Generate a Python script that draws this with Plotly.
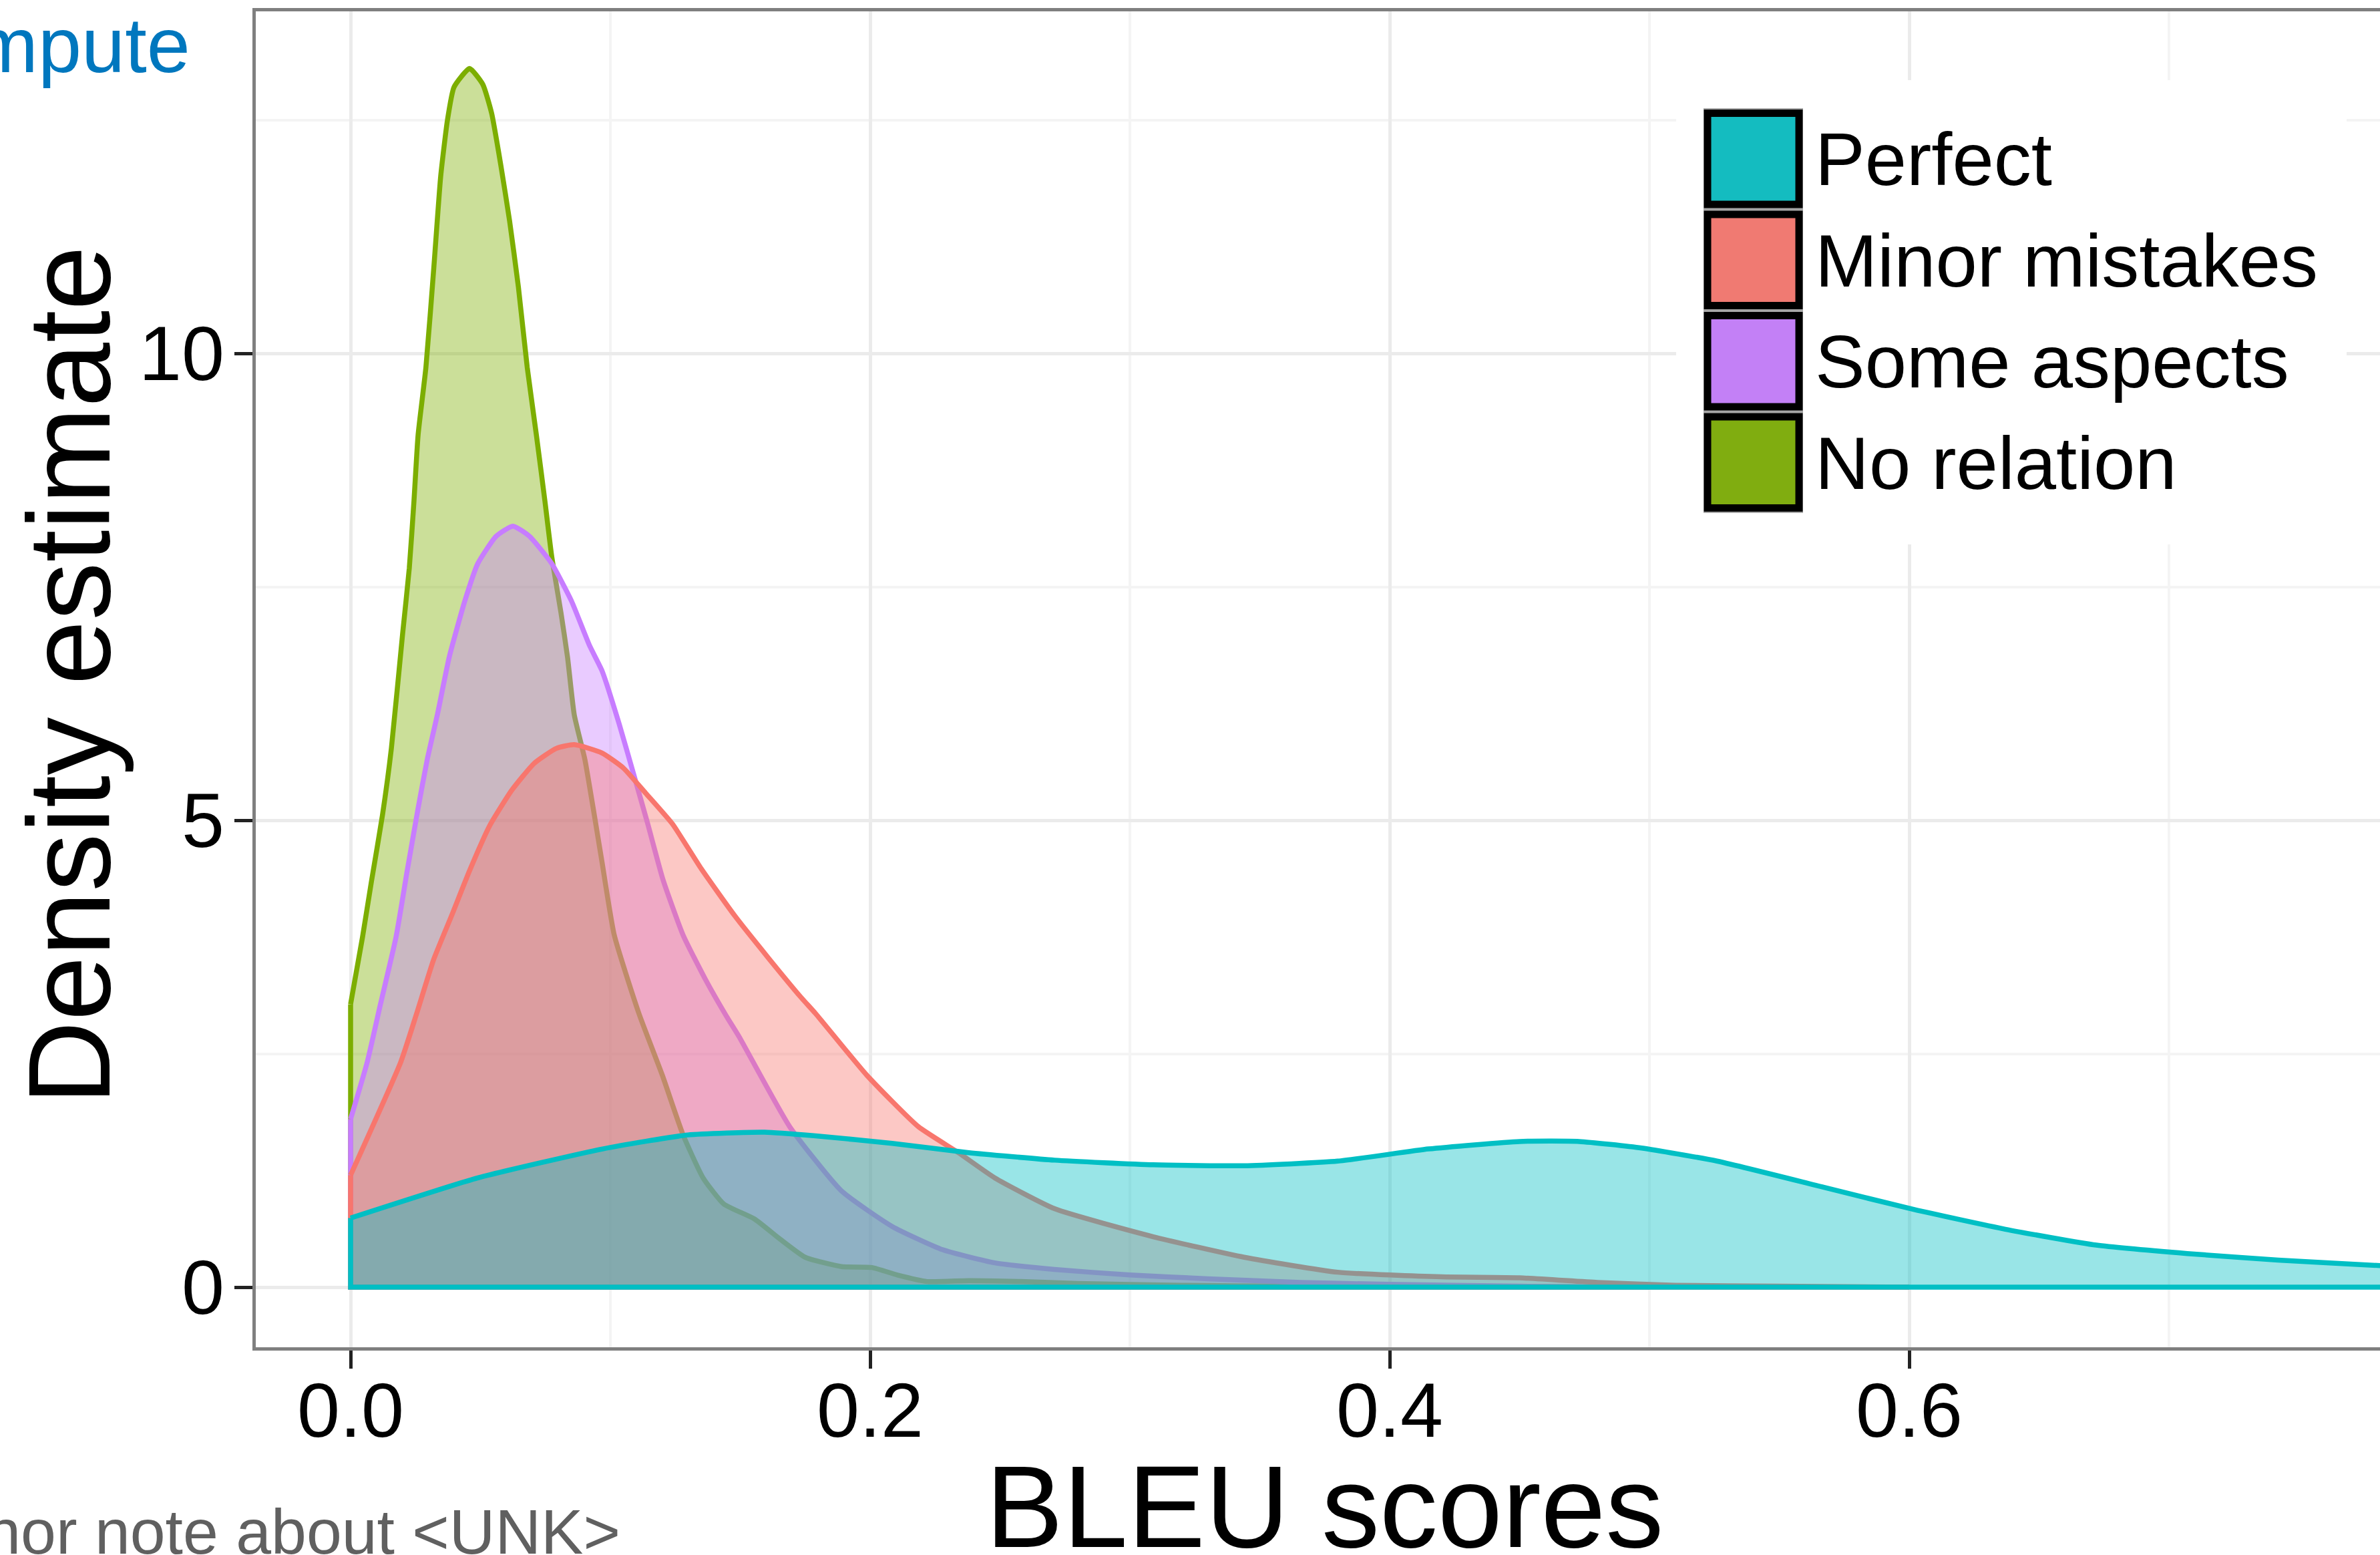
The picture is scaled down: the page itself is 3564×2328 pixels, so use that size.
import plotly.graph_objects as go

# ---------------- data ----------------
categories = ["Perfect", "Minor mistakes", "Some aspects", "No relation"]
line_colors = ["#00BFC4", "#F8766D", "#C77CFF", "#7CAE00"]
fill_colors = ["rgba(0,191,196,0.4)", "rgba(248,118,109,0.4)",
               "rgba(199,124,255,0.4)", "rgba(124,174,0,0.4)"]
key_colors = ["rgba(0,191,196,0.88)", "rgba(248,118,109,0.9)",
              "rgba(199,124,255,0.9)", "rgba(124,174,0,0.9)"]

no_relation_x = [0.0, 0.0046, 0.008, 0.0123, 0.0157, 0.020, 0.0226, 0.0244, 0.026, 0.029,
                 0.0321, 0.0347, 0.0373, 0.0398, 0.0458, 0.0509, 0.0543, 0.0578, 0.0612,
                 0.0646, 0.068, 0.0715, 0.0748, 0.0774, 0.081, 0.0835, 0.0861, 0.0902,
                 0.0938, 0.0968, 0.1015, 0.111, 0.120, 0.128, 0.1357, 0.1437, 0.1555,
                 0.1653, 0.175, 0.189, 0.2007, 0.2105, 0.222, 0.238, 0.258, 0.28, 0.32,
                 0.36, 0.42, 0.50]
no_relation_y = [3.03, 3.75, 4.34, 5.06, 5.77, 6.99, 7.70, 8.42, 9.13, 9.85,
                 10.94, 11.90, 12.50, 12.85, 13.05, 12.88, 12.57, 12.02, 11.42,
                 10.71, 9.85, 9.13, 8.42, 7.83, 7.22, 6.75, 6.13, 5.65,
                 5.06, 4.55, 3.77, 2.93, 2.27, 1.63, 1.17, 0.89, 0.73,
                 0.515, 0.32, 0.22, 0.21, 0.13, 0.06, 0.07, 0.06, 0.04, 0.02,
                 0.01, 0.01, 0.0]

some_aspects_x = [0.0, 0.0064, 0.0115, 0.0175, 0.0218, 0.026, 0.0295, 0.0334, 0.038, 0.044,
                  0.049, 0.056, 0.0625, 0.0689, 0.0774, 0.085, 0.092, 0.0968, 0.1033,
                  0.109, 0.1144, 0.1203, 0.128, 0.1367, 0.1445, 0.1496, 0.169, 0.189,
                  0.2085, 0.228, 0.248, 0.271, 0.30, 0.33, 0.366, 0.40, 0.45, 0.50]
some_aspects_y = [1.8, 2.41, 3.03, 3.75, 4.46, 5.13, 5.65, 6.13, 6.75, 7.35,
                  7.75, 8.04, 8.15, 8.04, 7.75, 7.35, 6.87, 6.6, 6.04,
                  5.49, 4.96, 4.36, 3.77, 3.29, 2.91, 2.68, 1.72, 1.03,
                  0.65, 0.40, 0.26, 0.19, 0.13, 0.09, 0.05, 0.03, 0.01, 0.0]

minor_mistakes_x = [0.0, 0.0193, 0.0252, 0.032, 0.0389, 0.0458, 0.0535, 0.062, 0.0707,
                    0.0792, 0.0861, 0.0968, 0.105, 0.1136, 0.1239, 0.135, 0.1478, 0.1607,
                    0.1735, 0.179, 0.1987, 0.2185, 0.234, 0.248, 0.271, 0.309, 0.344,
                    0.38, 0.42, 0.45, 0.48, 0.51, 0.55, 0.60]
minor_mistakes_y = [1.2, 2.41, 2.91, 3.51, 3.98, 4.46, 4.94, 5.32, 5.61,
                    5.77, 5.81, 5.72, 5.56, 5.29, 4.96, 4.48, 3.98, 3.53,
                    3.10, 2.93, 2.27, 1.72, 1.44, 1.17, 0.84, 0.54, 0.32,
                    0.16, 0.11, 0.10, 0.05, 0.02, 0.01, 0.0]

perfect_x = [0.0, 0.049, 0.097, 0.1298, 0.1594, 0.179, 0.2085, 0.238, 0.271, 0.309,
             0.344, 0.38, 0.415, 0.45, 0.473, 0.497, 0.526, 0.567, 0.602, 0.637,
             0.672, 0.707, 0.742, 0.782, 0.80]
perfect_y = [0.74, 1.17, 1.48, 1.63, 1.66, 1.62, 1.54, 1.44, 1.36, 1.31,
             1.30, 1.35, 1.48, 1.56, 1.56, 1.49, 1.35, 1.07, 0.83, 0.62,
             0.45, 0.36, 0.29, 0.23, 0.21]

series_x = {"Perfect": perfect_x, "Minor mistakes": minor_mistakes_x,
            "Some aspects": some_aspects_x, "No relation": no_relation_x}
series_y = {"Perfect": perfect_y, "Minor mistakes": minor_mistakes_y,
            "Some aspects": some_aspects_y, "No relation": no_relation_y}
draw_order = ["No relation", "Some aspects", "Minor mistakes", "Perfect"]

x_tick_vals = [0.0, 0.2, 0.4, 0.6]
x_tick_text = ["0.0", "0.2", "0.4", "0.6"]
x_minor_vals = [0.1, 0.3, 0.5, 0.7]
y_tick_vals = [0, 5, 10]
y_tick_text = ["0", "5", "10"]
y_minor_vals = [2.5, 7.5, 12.5]

x_title = "BLEU scores"
y_title = "Density estimate"
top_text = "Compute"
bottom_text = "Minor note about <UNK>"

# ---------------- layout geometry ----------------
FIG_W, FIG_H = 3564, 2328
ML, MR, MT, MB = 383, 0, 17, 311
PW = FIG_W - ML - MR
PH = FIG_H - MT - MB
FONT = "Liberation Sans, Arial, Helvetica, sans-serif"
LW = 7.5


def pxx(p):
    return (p - ML) / PW


def pxy(p):
    return (FIG_H - MB - p) / PH


fig = go.Figure()

for name in draw_order:
    i = categories.index(name)
    xs = series_x[name]
    ys = series_y[name]
    # density curve, filled down to zero
    fig.add_trace(go.Scatter(
        x=xs, y=ys, mode="lines", fill="tozeroy",
        fillcolor=fill_colors[i],
        line=dict(color=line_colors[i], width=LW, shape="spline", smoothing=0.5),
        name=name, showlegend=False, hoverinfo="skip"))
    # closing outline of the polygon: vertical edge at the start, baseline, end edge
    fig.add_trace(go.Scatter(
        x=[xs[0], xs[0], xs[-1], xs[-1]], y=[ys[0], 0.0, 0.0, ys[-1]],
        mode="lines", line=dict(color=line_colors[i], width=LW),
        showlegend=False, hoverinfo="skip"))

shapes = []
annotations = []

# legend (drawn manually to match the large ggplot keys)
shapes.append(dict(type="rect", xref="paper", yref="paper",
                   x0=pxx(2510), x1=pxx(3514), y0=pxy(120), y1=pxy(815),
                   fillcolor="white", line=dict(width=0), layer="above"))
shapes.append(dict(type="rect", xref="paper", yref="paper",
                   x0=pxx(2551), x1=pxx(2700), y0=pxy(162), y1=pxy(768),
                   fillcolor="#A6A6A6", line=dict(width=0), layer="above"))
key_top = 162
key_h = 151.5
for i, name in enumerate(categories):
    y0 = key_top + key_h * i
    shapes.append(dict(type="rect", xref="paper", yref="paper",
                       x0=pxx(2557), x1=pxx(2694),
                       y0=pxy(y0 + 7.5), y1=pxy(y0 + key_h - 7.5),
                       fillcolor=key_colors[i],
                       line=dict(color="black", width=11), layer="above"))
    annotations.append(dict(xref="paper", yref="paper",
                            x=pxx(2716), y=pxy(y0 + key_h / 2 + 1),
                            xanchor="left", yanchor="middle", showarrow=False,
                            text=name, font=dict(family=FONT, size=112, color="black")))

# axis titles
annotations.append(dict(xref="paper", yref="paper", x=pxx(1984), y=pxy(2255),
                        xanchor="center", yanchor="middle", showarrow=False,
                        text=x_title, font=dict(family=FONT, size=174, color="black")))
annotations.append(dict(xref="paper", yref="paper", x=pxx(103), y=pxy(1011),
                        xanchor="center", yanchor="middle", showarrow=False,
                        textangle=-90,
                        text=y_title, font=dict(family=FONT, size=174, color="black")))
# slide text fragments around the chart (cut by the screenshot edge, as in the reference)
annotations.append(dict(xref="paper", yref="paper", x=pxx(287), y=pxy(68),
                        xanchor="right", yanchor="middle", showarrow=False,
                        text=top_text, font=dict(family=FONT, size=117, color="#0077BE")))
annotations.append(dict(xref="paper", yref="paper", x=pxx(931), y=pxy(2293),
                        xanchor="right", yanchor="middle", showarrow=False,
                        text=bottom_text.replace("<", "&lt;").replace(">", "&gt;"),
                        font=dict(family=FONT, size=95, color="#606060")))

x_per_px = 1 / 3890.0
y_per_px = 1 / 139.8
x0_px, y0_px = 525, 1927
x_range = [(ML - x0_px) * x_per_px, (FIG_W - MR - x0_px) * x_per_px]
y_range = [(y0_px - (FIG_H - MB)) * y_per_px, (y0_px - MT) * y_per_px]

fig.update_layout(
    width=FIG_W, height=FIG_H,
    margin=dict(l=ML, r=MR, t=MT, b=MB, pad=0),
    paper_bgcolor="white", plot_bgcolor="white",
    showlegend=False,
    shapes=shapes, annotations=annotations,
    xaxis=dict(range=x_range, tickvals=x_tick_vals, ticktext=x_tick_text,
               showgrid=True, gridcolor="#EBEBEB", gridwidth=5,
               minor=dict(tickvals=x_minor_vals, showgrid=True,
                          gridcolor="#F4F4F4", gridwidth=4, ticks=""),
               zeroline=False, showline=True, linecolor="#7F7F7F", linewidth=5,
               mirror=True, ticks="outside", ticklen=27, tickwidth=5,
               tickcolor="#222222", ticklabelstandoff=-36,
               tickfont=dict(family=FONT, size=115, color="black")),
    yaxis=dict(range=y_range, tickvals=y_tick_vals, ticktext=y_tick_text,
               showgrid=True, gridcolor="#EBEBEB", gridwidth=5,
               minor=dict(tickvals=y_minor_vals, showgrid=True,
                          gridcolor="#F4F4F4", gridwidth=4, ticks=""),
               zeroline=False, showline=True, linecolor="#7F7F7F", linewidth=5,
               mirror=False, ticks="outside", ticklen=27, tickwidth=5,
               tickcolor="#222222", ticklabelstandoff=-8,
               tickfont=dict(family=FONT, size=115, color="black")),
)

fig.write_html("out.html", config={"displayModeBar": False},
               post_script="document.body.style.margin='0';document.body.style.overflow='hidden';")
